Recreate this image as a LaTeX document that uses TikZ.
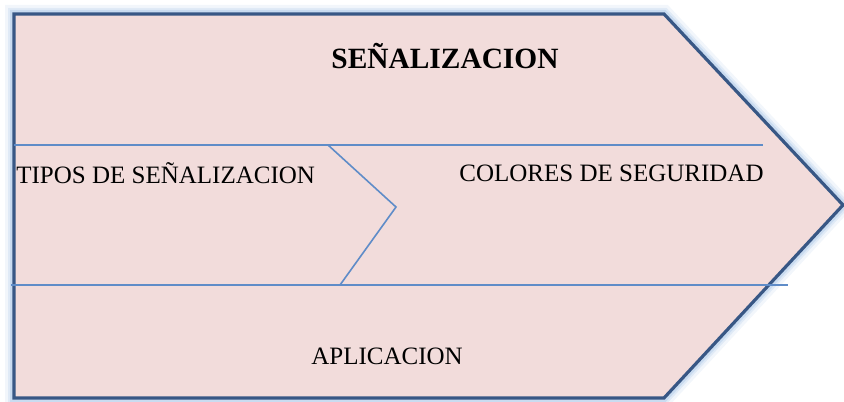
\documentclass[tikz,border=0pt]{standalone}
\usepackage{fontspec}
\setmainfont{Liberation Serif}
\usetikzlibrary{positioning, calc}

\definecolor{rosa}{RGB}{242,220,219}
\definecolor{borde}{RGB}{56,87,133}
\definecolor{linea}{RGB}{95,140,200}
\definecolor{halo}{RGB}{150,185,225}

\tikzset{
  etiqueta/.style={inner sep=0pt, font=\fontsize{12.5}{15}\selectfont},
  titulo/.style={etiqueta, font=\fontsize{14.7}{17}\selectfont\bfseries},
  division/.style={draw=linea, line width=0.8pt}
}

\begin{document}
\begin{tikzpicture}[x=0.5pt, y=-0.5pt]
    \useasboundingbox (0,0) rectangle (844,401);

    % flecha grande con halo
    \foreach \w/\o in {9/0.12, 6/0.2, 4/0.3} {
      \draw[halo, line width=\w pt, opacity=\o, line join=miter]
        (14,14) -- (664,14) -- (843,205) -- (664,398) -- (14,398) -- cycle;
    }
    \draw[fill=rosa, draw=borde, line width=1.6pt]
      (14,14) -- (664,14) -- (843,205) -- (664,398) -- (14,398) -- cycle;

    % divisiones
    \coordinate (a1) at (14,145);
    \coordinate (a2) at (763,145);
    \coordinate (b1) at (11,285);
    \coordinate (b2) at (788,285);
    \draw[division] (a1) -- (a2);
    \draw[division] (b1) -- (b2);
    \draw[division] (328,145) -- (396,207) -- (340,285);

    \node[titulo] (senal) at (445,56) {SEÑALIZACION};
    \node[etiqueta, anchor=west] (tipos) at (16,173) {TIPOS DE SEÑALIZACION};
    \node[etiqueta, anchor=west] (colores) at (459,173) {COLORES DE SEGURIDAD};
    \node[etiqueta] (aplic) at (387,356) {APLICACION};
  \end{tikzpicture}
\end{document}
